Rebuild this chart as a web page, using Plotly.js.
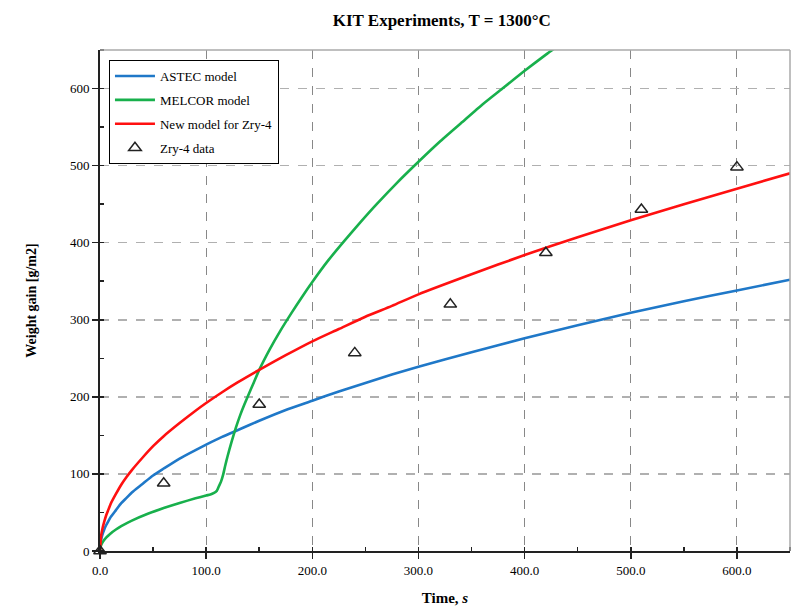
<!DOCTYPE html>
<html>
<head>
<meta charset="utf-8">
<script src="https://cdn.plot.ly/plotly-3.0.1.min.js"></script>
<style>html,body{margin:0;padding:0;background:#fff;}#chart{width:796px;height:609px;}</style>
</head>
<body>
<div id="chart"></div>
<script>
// Model curves (time in s, weight gain in g/m2)
const modelTime = [0, 1, 2, 4, 6, 8, 10, 15, 20, 25, 30, 40, 50, 60, 75, 90, 100, 115, 130, 150, 175, 200, 225, 250, 275, 300, 350, 400, 450, 500, 550, 600, 650];
const astecGain = [0, 14, 20, 28, 34, 39, 44, 53, 62, 69, 76, 87, 98, 107, 120, 131, 138, 148, 157, 169, 183, 195, 207, 218, 229, 239, 258, 276, 293, 309, 324, 338, 352];
const newModelGain = [0, 19, 27, 38, 47, 54, 61, 74, 86, 96, 105, 121, 136, 149, 166, 182, 192, 206, 219, 235, 254, 272, 288, 304, 318, 333, 359, 384, 407, 429, 450, 470, 490];

const melcorTime = [0, 1, 3, 6, 10, 15, 20, 30, 45, 60, 75, 90, 100, 104, 107, 110, 112, 114, 116, 118, 120, 124, 128, 132, 136, 140, 145, 150, 160, 170, 180, 190, 200, 215, 230, 245, 260, 280, 300, 320, 340, 360, 380, 400, 421, 432];
const melcorGain = [0, 7.2, 12.5, 17.6, 22.8, 27.9, 32.2, 39.4, 48.3, 55.8, 62.4, 68.3, 72, 73.3, 75, 78, 84, 90, 99, 111, 122, 142, 160, 176, 190, 203, 219, 235, 262, 286, 308, 329, 349, 377, 402, 426, 449, 478, 505, 531, 555, 579, 601, 623, 645, 656];

const dataTime = [0, 60, 150, 240, 330, 420, 510, 600];
const dataGain = [0, 88, 190, 257, 320, 387, 443, 498];

const xTickVals = [0, 100, 200, 300, 400, 500, 600];
const xTickText = ['0.0', '100.0', '200.0', '300.0', '400.0', '500.0', '600.0'];
const yTickVals = [0, 100, 200, 300, 400, 500, 600];

const serif = 'Liberation Serif, Times New Roman, serif';

const traces = [
  {x: modelTime, y: astecGain, name: 'ASTEC model', mode: 'lines', legendgroup: 'a',
   line: {color: '#1f78c8', width: 2.6, shape: 'spline', smoothing: 0.6}},
  {x: melcorTime, y: melcorGain, name: 'MELCOR model', mode: 'lines', legendgroup: 'b',
   line: {color: '#18b04c', width: 2.6, shape: 'spline', smoothing: 0.5}},
  {x: modelTime, y: newModelGain, name: 'New model for Zry-4', mode: 'lines', legendgroup: 'c',
   line: {color: '#ff1010', width: 2.6, shape: 'spline', smoothing: 0.6}},
  {x: dataTime, y: dataGain, name: 'Zry-4 data', mode: 'markers', cliponaxis: false, legendgroup: 'd',
   marker: {symbol: 'triangle-up-open', size: 11, color: '#222', line: {width: 1.5, color: '#222'}}}
];

const layout = {
  width: 796, height: 609,
  margin: {l: 100, r: 6, t: 50, b: 58},
  paper_bgcolor: '#fff', plot_bgcolor: '#fff',
  font: {family: serif, color: '#000', size: 13},
  title: {text: '<b>KIT Experiments, T = 1300°C</b>', font: {family: serif, size: 17, color: '#000'},
          x: 0.555, xanchor: 'center', y: 0.967, yanchor: 'middle'},
  showlegend: true,
  legend: {x: 0.013, y: 0.98, xanchor: 'left', yanchor: 'top', bgcolor: '#fff',
           bordercolor: '#000', borderwidth: 1, font: {family: serif, size: 13, color: '#000'},
           tracegroupgap: 4, itemwidth: 40},
  xaxis: {
    range: [0, 650], tickvals: xTickVals, ticktext: xTickText,
    showline: true, linecolor: '#222', linewidth: 2,
    ticks: 'outside', ticklen: 6, tickwidth: 1.5, tickcolor: '#222',
    minor: {dtick: 50, ticks: 'inside', ticklen: 4, tickcolor: '#222', showgrid: false},
    showgrid: true, gridcolor: '#888', gridwidth: 1, griddash: 'dash',
    zeroline: false, tickfont: {family: serif, size: 13},
    title: {text: '<b>Time, <i>s</i></b>', font: {family: serif, size: 15}, standoff: 16}
  },
  yaxis: {
    range: [0, 650], tickvals: yTickVals,
    showline: true, linecolor: '#222', linewidth: 2,
    ticks: 'outside', ticklen: 6, tickwidth: 1.5, tickcolor: '#222',
    minor: {dtick: 50, ticks: 'inside', ticklen: 4, tickcolor: '#222', showgrid: false},
    showgrid: true, gridcolor: '#b0b0b0', gridwidth: 1.5, griddash: 'dash',
    zeroline: false, tickfont: {family: serif, size: 13},
    title: {text: '<b>Weight gain [g/m2]</b>', font: {family: serif, size: 14}, standoff: 30}
  },
  shapes: [
    {type: 'line', xref: 'paper', yref: 'paper', x0: 0, x1: 1, y0: 1, y1: 1, line: {color: '#aaa', width: 1.5}},
    {type: 'line', xref: 'paper', yref: 'paper', x0: 1, x1: 1, y0: 0, y1: 1, line: {color: '#aaa', width: 1.5}}
  ]
};

Plotly.newPlot('chart', traces, layout, {displayModeBar: false, staticPlot: true});
</script>
</body>
</html>
